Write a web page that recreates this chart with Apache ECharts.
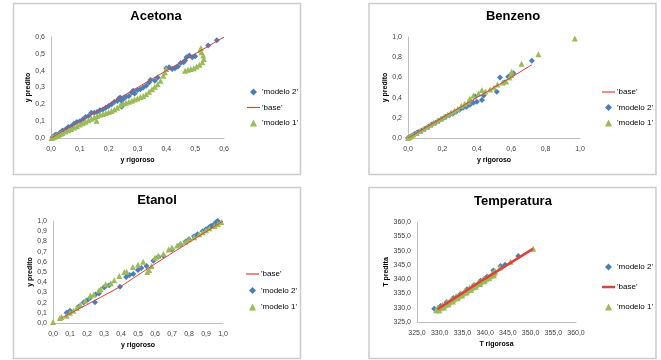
<!DOCTYPE html>
<html>
<head>
<meta charset="utf-8">
<script src="https://cdn.jsdelivr.net/npm/echarts@6/dist/echarts.min.js"></script>
<style>
  html, body { margin: 0; padding: 0; background: #fff; }
  #chart { width: 661px; height: 360px; }
</style>
</head>
<body>
<div id="chart"></div>
<script>
// axis ranges: [min, max, interval]
var acetonaRange = [0, 0.6, 0.1];
var benzenoRange = [0, 1.0, 0.2];
var etanolRange = [0, 1.0, 0.1];
var tempRange = [325, 360, 5];

// Acetona
var acetonaModelo2 = [
  [0.005,0.005],[0.01,0.01],[0.015,0.02],[0.02,0.02],[0.03,0.03],[0.04,0.045],[0.05,0.05],[0.06,0.065],
  [0.07,0.07],[0.08,0.085],[0.09,0.095],[0.1,0.1],[0.11,0.11],[0.12,0.125],[0.13,0.13],[0.14,0.15],
  [0.15,0.15],[0.16,0.155],[0.17,0.165],[0.18,0.17],[0.19,0.18],[0.2,0.19],[0.21,0.2],[0.22,0.215],
  [0.23,0.22],[0.235,0.235],[0.24,0.24],[0.245,0.22],[0.245,0.186],[0.25,0.23],[0.26,0.245],[0.27,0.25],
  [0.28,0.27],[0.285,0.28],[0.29,0.265],[0.3,0.285],[0.31,0.29],[0.32,0.3],[0.33,0.31],[0.34,0.33],
  [0.345,0.345],[0.36,0.34],[0.37,0.36],[0.4,0.415],[0.41,0.42],[0.42,0.41],[0.43,0.415],[0.44,0.425],
  [0.45,0.445],[0.46,0.45],[0.465,0.46],[0.47,0.48],[0.48,0.49],[0.49,0.48],[0.5,0.485],[0.545,0.55],[0.575,0.58]
];
var acetonaBase = [[0,0],[0.2,0.2],[0.4,0.4],[0.6,0.6]];
var acetonaModelo1 = [
  [0.002,0.0],[0.005,0.003],[0.01,0.006],[0.015,0.01],[0.02,0.014],[0.025,0.018],[0.03,0.022],[0.035,0.026],
  [0.04,0.03],[0.05,0.038],[0.06,0.046],[0.07,0.054],[0.08,0.062],[0.09,0.07],[0.1,0.08],[0.11,0.088],
  [0.12,0.097],[0.13,0.105],[0.14,0.115],[0.15,0.122],[0.158,0.103],[0.16,0.13],[0.17,0.138],[0.18,0.143],
  [0.19,0.148],[0.2,0.155],[0.21,0.16],[0.22,0.17],[0.23,0.18],[0.24,0.195],[0.25,0.205],[0.26,0.21],
  [0.27,0.215],[0.28,0.222],[0.29,0.228],[0.3,0.235],[0.31,0.243],[0.32,0.25],[0.33,0.26],[0.34,0.275],
  [0.35,0.29],[0.36,0.305],[0.37,0.32],[0.38,0.34],[0.39,0.37],[0.395,0.39],[0.4,0.41],
  [0.465,0.4],[0.475,0.405],[0.485,0.41],[0.495,0.415],[0.505,0.425],[0.515,0.435],[0.525,0.45],
  [0.53,0.47],[0.528,0.49],[0.522,0.51],[0.518,0.525],[0.52,0.535]
];

// Benzeno
var benzenoBase = [[0,0],[0.2,0.2],[0.4,0.4],[0.6,0.6],[0.72,0.725]];
var benzenoModelo2 = [
  [0,0],[0.01,0.01],[0.02,0.02],[0.03,0.03],[0.04,0.04],[0.05,0.05],[0.06,0.06],[0.08,0.075],
  [0.1,0.095],[0.12,0.115],[0.14,0.135],[0.16,0.15],[0.18,0.17],[0.2,0.19],[0.22,0.21],[0.24,0.225],
  [0.26,0.24],[0.28,0.26],[0.3,0.28],[0.32,0.3],[0.34,0.31],[0.36,0.33],[0.38,0.35],[0.39,0.41],
  [0.4,0.36],[0.43,0.376],[0.44,0.42],[0.516,0.458],[0.535,0.6],[0.56,0.55],[0.583,0.607],[0.6,0.63],
  [0.613,0.64],[0.72,0.765]
];
var benzenoModelo1 = [
  [0,0],[0.01,0.01],[0.02,0.02],[0.03,0.035],[0.05,0.05],[0.07,0.07],[0.09,0.09],[0.11,0.11],
  [0.13,0.13],[0.15,0.15],[0.17,0.17],[0.19,0.19],[0.21,0.21],[0.23,0.23],[0.25,0.25],[0.27,0.27],
  [0.29,0.29],[0.31,0.32],[0.33,0.34],[0.35,0.36],[0.36,0.39],[0.38,0.42],[0.41,0.44],[0.43,0.475],
  [0.45,0.46],[0.477,0.48],[0.5,0.5],[0.52,0.53],[0.55,0.55],[0.57,0.56],[0.59,0.6],[0.6,0.625],
  [0.603,0.656],[0.66,0.735],[0.758,0.83],[0.97,0.985]
];

// Etanol
var etanolBase = [[0.05,0.05],[0.2,0.18],[0.4,0.36],[0.6,0.58],[0.8,0.79],[1.0,1.0]];
var etanolModelo2 = [
  [0.08,0.1],[0.1,0.12],[0.15,0.16],[0.18,0.2],[0.2,0.22],[0.22,0.25],[0.247,0.203],[0.25,0.28],
  [0.27,0.29],[0.3,0.35],[0.306,0.356],[0.33,0.37],[0.394,0.356],[0.43,0.45],[0.45,0.47],[0.472,0.48],
  [0.5,0.52],[0.52,0.54],[0.55,0.56],[0.59,0.61],[0.62,0.65],[0.65,0.66],[0.7,0.72],[0.75,0.77],
  [0.78,0.8],[0.8,0.82],[0.83,0.85],[0.85,0.87],[0.88,0.9],[0.9,0.92],[0.92,0.94],[0.93,0.95],
  [0.95,0.97],[0.96,0.99],[0.97,1.0]
];
var etanolModelo1 = [
  [0,0.01],[0.04,0.05],[0.05,0.06],[0.08,0.07],[0.1,0.1],[0.12,0.12],[0.14,0.15],[0.16,0.18],
  [0.19,0.22],[0.22,0.27],[0.24,0.28],[0.27,0.32],[0.28,0.33],[0.31,0.38],[0.34,0.39],[0.36,0.42],
  [0.39,0.46],[0.42,0.5],[0.433,0.503],[0.47,0.55],[0.5,0.57],[0.53,0.6],[0.555,0.5],[0.565,0.52],
  [0.58,0.56],[0.6,0.64],[0.62,0.66],[0.65,0.68],[0.68,0.72],[0.7,0.74],[0.73,0.76],[0.75,0.78],
  [0.78,0.8],[0.8,0.82],[0.83,0.84],[0.86,0.87],[0.88,0.89],[0.9,0.91],[0.92,0.93],[0.95,0.95],
  [0.97,0.97],[0.99,0.99]
];

// Temperatura
var tempModelo2 = [
  [328.8,329.6],[330.2,330.6],[331.5,331.9],[333.0,333.4],[334.6,334.9],[336.0,336.5],[337.5,337.9],
  [339.0,339.4],[340.4,340.8],[341.8,343.0],[343.4,344.6],[344.4,345.0],[347.3,348.1]
];
var tempBase = [[329.5,329.5],[340.0,340.2],[350.5,350.6]];
var tempModelo1 = [
  [329.2,329.1],[329.5,329.4],[329.7,329.2],[330.0,329.8],[330.3,330.0],[330.5,330.4],[330.8,330.5],
  [331.1,330.9],[331.4,331.1],[331.6,331.5],[331.9,331.7],[332.2,332.1],[332.5,332.3],[332.8,332.7],
  [333.0,332.9],[333.3,333.2],[333.6,333.4],[333.9,333.8],[334.2,334.0],[334.4,334.4],[334.7,334.5],
  [335.0,334.9],[335.3,335.2],[335.6,335.4],[335.9,335.8],[336.1,336.0],[336.4,336.4],[336.7,336.5],
  [337.0,336.9],[337.3,337.2],[337.6,337.4],[337.8,337.8],[338.1,338.0],[338.4,338.4],[338.7,338.5],
  [339.0,338.9],[339.3,339.3],[339.6,339.4],[339.9,339.8],[340.2,340.1],[340.5,340.5],[340.8,340.6],
  [341.1,341.0],[341.4,341.4],[341.7,341.5],[342.0,342.0],[342.2,342.6],[343.3,344.1],[345.6,346.1],
  [350.6,350.6],
  [329.6,330.1],[330.6,331.0],[331.6,332.0],[332.6,333.0],[333.6,334.1],[334.6,335.0],[335.6,336.0],
  [336.6,337.1],[337.6,338.0],[338.6,339.0],[339.6,340.1],[340.6,341.0],[341.6,342.1],[342.1,342.9],
  [329.9,329.0],[330.9,330.1],[331.9,331.2],[332.9,332.2],[333.9,333.3],[334.9,334.3],[335.9,335.3],
  [336.9,336.3],[337.9,337.3],[338.9,338.3],[339.9,339.3],[340.9,340.3],[341.9,341.3]
];

var BLUE = '#4a7ebb';
var RED = '#e0403c';
var GREEN = '#9bbb59';
var FONT = 'Liberation Sans';
// path icons keep their aspect inside the wider legend box
var DIAMOND = 'path://M0,-1L1,0L0,1L-1,0Z';
var TRIANGLE = 'path://M0,-1L1,1L-1,1Z';
var THIN = 'path://M0,0L13,0L13,1.2L0,1.2Z';
var THICK = 'path://M0,0L13,0L13,2.5L0,2.5Z';

function fmt1(v) { return v.toFixed(1).replace('.', ','); }

function xAx(idx, range, name) {
  return {
    gridIndex: idx, type: 'value', min: range[0], max: range[1], interval: range[2],
    name: name, nameLocation: 'middle', nameGap: 19,
    nameTextStyle: { fontFamily: FONT, fontSize: 7, fontWeight: 'bold', color: '#000' },
    axisLine: { lineStyle: { color: '#bfbfbf' } },
    axisTick: { show: false },
    splitLine: { show: false },
    axisLabel: { fontFamily: FONT, fontSize: 7, color: '#404040', margin: 8, formatter: fmt1 }
  };
}
function yAx(idx, range, name, gap) {
  return {
    gridIndex: idx, type: 'value', min: range[0], max: range[1], interval: range[2],
    name: name, nameLocation: 'middle', nameGap: gap,
    nameTextStyle: { fontFamily: FONT, fontSize: 7, fontWeight: 'bold', color: '#000' },
    axisLine: { show: true, lineStyle: { color: '#bfbfbf' } },
    axisTick: { show: false },
    splitLine: { show: false },
    axisLabel: { fontFamily: FONT, fontSize: 7, color: '#404040', margin: 6, formatter: fmt1 }
  };
}
function scat(idx, name, data, symbol, color) {
  return {
    type: 'scatter', name: name, xAxisIndex: idx, yAxisIndex: idx, data: data,
    symbol: symbol, symbolSize: 6,
    itemStyle: { color: color, opacity: 1 }
  };
}
function baseLine(idx, data, width) {
  return {
    type: 'line', name: "'base'", xAxisIndex: idx, yAxisIndex: idx, data: data,
    symbol: 'none', lineStyle: { color: RED, width: width }, itemStyle: { color: RED }
  };
}
function legItem(name, thick) {
  if (name === "'base'") {
    return {
      name: name, icon: thick ? THICK : THIN,
      itemStyle: { color: RED, borderColor: RED, borderWidth: 0 },
      lineStyle: { color: RED, width: 0 }
    };
  }
  return { name: name, icon: name === "'modelo 2'" ? DIAMOND : TRIANGLE };
}
function leg(left, top, gap, names, thick) {
  return {
    orient: 'vertical', left: left, top: top, itemGap: gap, itemWidth: 13, itemHeight: 7,
    symbolKeepAspect: true,
    selectedMode: false,
    data: names.map(function (n) { return legItem(n, thick); }),
    textStyle: { fontFamily: FONT, fontSize: 8, color: '#000', padding: [0, 0, 0, -3] }
  };
}
function ttl(text, x, y) {
  return {
    text: text, left: x, top: y, textAlign: 'center', padding: 0,
    textStyle: { fontFamily: FONT, fontSize: 13, fontWeight: 'bold', color: '#000' }
  };
}
function box(x, y) {
  return {
    type: 'rect', shape: { x: x, y: y, width: 287, height: 171 }, silent: true,
    style: { fill: 'none', stroke: '#cccccc', lineWidth: 1.5 }
  };
}

var chart = echarts.init(document.getElementById('chart'));
chart.setOption({
  animation: false,
  backgroundColor: '#fff',
  graphic: [box(13.5, 3.5), box(369, 3.5), box(13.5, 187.5), box(369, 187.5)],
  title: [
    ttl('Acetona', 156, 10),
    ttl('Benzeno', 513, 10),
    ttl('Etanol', 157, 194),
    ttl('Temperatura', 513, 195)
  ],
  grid: [
    { left: 51, top: 37, width: 173, height: 101 },
    { left: 408, top: 37, width: 172, height: 101 },
    { left: 53, top: 221, width: 170, height: 102 },
    { left: 417, top: 222, width: 159, height: 100 }
  ],
  xAxis: [
    xAx(0, acetonaRange, 'y rigoroso'),
    xAx(1, benzenoRange, 'y rigoroso'),
    xAx(2, etanolRange, 'y rigoroso'),
    xAx(3, tempRange, 'T rigorosa')
  ],
  yAxis: [
    yAx(0, acetonaRange, 'y predito', 18),
    yAx(1, benzenoRange, 'y predito', 18),
    yAx(2, etanolRange, 'y predito', 18),
    yAx(3, tempRange, 'T predita', 26)
  ],
  legend: [
    leg(242, 83, 7.5, ["'modelo 2'", "'base'", "'modelo 1'"], false),
    leg(597, 83, 7.5, ["'base'", "'modelo 2'", "'modelo 1'"], false),
    leg(241, 265, 8.5, ["'base'", "'modelo 2'", "'modelo 1'"], false),
    leg(597, 258, 12, ["'modelo 2'", "'base'", "'modelo 1'"], true)
  ],
  series: [
    scat(0, "'modelo 2'", acetonaModelo2, 'diamond', BLUE),
    baseLine(0, acetonaBase, 1),
    scat(0, "'modelo 1'", acetonaModelo1, 'triangle', GREEN),

    baseLine(1, benzenoBase, 1),
    scat(1, "'modelo 2'", benzenoModelo2, 'diamond', BLUE),
    scat(1, "'modelo 1'", benzenoModelo1, 'triangle', GREEN),

    baseLine(2, etanolBase, 1),
    scat(2, "'modelo 2'", etanolModelo2, 'diamond', BLUE),
    scat(2, "'modelo 1'", etanolModelo1, 'triangle', GREEN),

    scat(3, "'modelo 2'", tempModelo2, 'diamond', BLUE),
    baseLine(3, tempBase, 2.5),
    scat(3, "'modelo 1'", tempModelo1, 'triangle', GREEN)
  ]
});
</script>
</body>
</html>
